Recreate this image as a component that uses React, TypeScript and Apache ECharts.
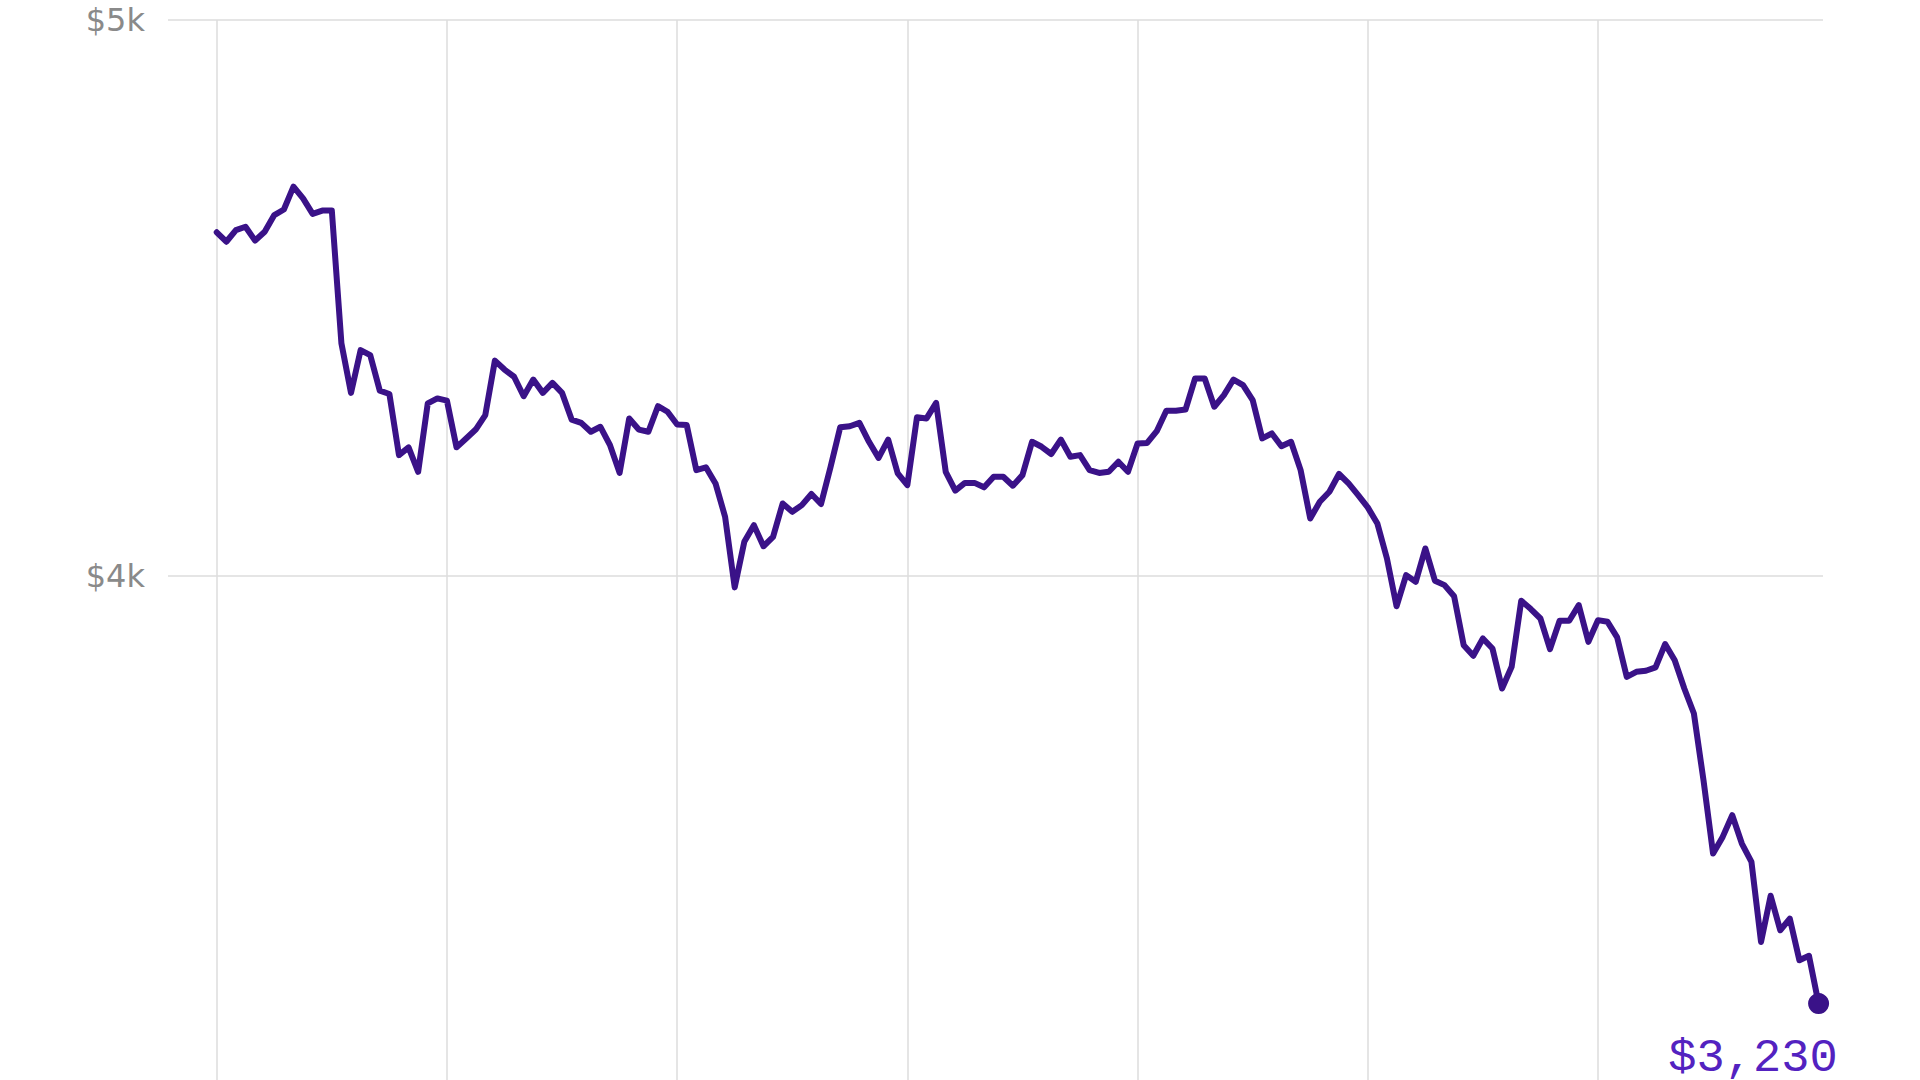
import React, { useEffect, useRef } from "react";
import * as echarts from "echarts";

// Hourly prices (USD)
const prices: number[] = [
  4618, 4601, 4622, 4628, 4603, 4619, 4649, 4659, 4700, 4679, 4651, 4657, 4657, 4418, 4329, 4406,
  4397, 4333, 4327, 4217, 4231, 4187, 4310, 4319, 4315, 4231, 4247, 4263, 4289, 4387, 4371, 4358,
  4323, 4353, 4329, 4347, 4329, 4281, 4275, 4259, 4268, 4235, 4185, 4283, 4263, 4259, 4305, 4295,
  4272, 4271, 4190, 4195, 4166, 4106, 3979, 4061, 4091, 4053, 4070, 4130, 4115, 4127, 4147, 4129,
  4196, 4267, 4269, 4275, 4241, 4212, 4245, 4184, 4163, 4285, 4283, 4311, 4187, 4153, 4167, 4167,
  4159, 4178, 4178, 4162, 4181, 4241, 4232, 4219, 4245, 4214, 4217, 4190, 4185, 4187, 4205, 4187,
  4238, 4239, 4260, 4297, 4297, 4299, 4355, 4355, 4304, 4325, 4353, 4343, 4316, 4247, 4256, 4233,
  4241, 4190, 4103, 4133, 4151, 4183, 4166, 4145, 4123, 4094, 4031, 3945, 4001, 3989, 4049, 3991,
  3983, 3963, 3875, 3856, 3887, 3869, 3797, 3836, 3955, 3940, 3923, 3868, 3919, 3919, 3947, 3881,
  3920, 3917, 3889, 3818, 3827, 3829, 3835, 3877, 3848, 3797, 3752, 3632, 3500, 3530, 3569, 3518,
  3485, 3341, 3424, 3362, 3383, 3308, 3316, 3230,
];

// Day boundaries (hour index) where vertical gridlines sit
const dayTicks: number[] = [0, 24, 48, 72, 96, 120, 144];

// Y axis ticks
const yMin = 3000;
const yMax = 5000;
const yStep = 1000;

const lastLabel = "$3,230";

const LINE_COLOR = "#3a1288";
const LABEL_COLOR = "#5322c0";
const GRID_COLOR = "#dcdcdc";

export default function App() {
  const ref = useRef<HTMLDivElement>(null);

  useEffect(() => {
    if (!ref.current) return;
    const chart = echarts.init(ref.current, null, { renderer: "svg" });
    const lineData = prices.map((v, i) => [i, v]);
    const lastIdx = prices.length - 1;

    chart.setOption({
      animation: false,
      backgroundColor: "#ffffff",
      grid: { left: 168, right: 97, top: 20, bottom: 68.6 },
      xAxis: {
        type: "value",
        min: -5.08,
        max: 167.46,
        show: false,
      },
      yAxis: {
        type: "value",
        min: yMin,
        max: yMax,
        interval: yStep,
        axisLine: { show: false },
        axisTick: { show: false },
        axisLabel: {
          formatter: (v: number) => "$" + v / 1000 + "k",
          color: "#8a8a8a",
          fontFamily: "DejaVu Sans",
          fontSize: 32,
          margin: 23,
          showMinLabel: false,
        },
        splitLine: { lineStyle: { color: GRID_COLOR, width: 1.5 } },
      },
      series: [
        {
          type: "line",
          data: lineData,
          showSymbol: false,
          symbol: "none",
          z: 2,
          lineStyle: { color: LINE_COLOR, width: 6, join: "round", cap: "round" },
          silent: true,
          markLine: {
            z: 1,
            silent: true,
            symbol: ["none", "none"],
            label: { show: false },
            lineStyle: { color: GRID_COLOR, width: 1.5, type: "solid" },
            data: dayTicks.map((t) => ({ xAxis: t })),
          },
        },
        {
          type: "scatter",
          z: 3,
          data: [[lastIdx, prices[lastIdx]]],
          symbol: "circle",
          symbolSize: 21,
          itemStyle: { color: LINE_COLOR, opacity: 1 },
          silent: true,
          label: {
            show: true,
            position: "bottom",
            distance: 0,
            align: "right",
            verticalAlign: "middle",
            offset: [19, 44],
            formatter: () => lastLabel,
            color: LABEL_COLOR,
            fontFamily: "Liberation Mono",
            fontSize: 47,
          },
        },
      ],
    });

    return () => chart.dispose();
  }, []);

  return (
    <div
      style={{
        position: "absolute",
        left: 0,
        top: 0,
        width: 1920,
        height: 1080,
        overflow: "hidden",
        background: "#fff",
      }}
    >
      <div ref={ref} style={{ width: 1920, height: 1200 }} />
    </div>
  );
}
